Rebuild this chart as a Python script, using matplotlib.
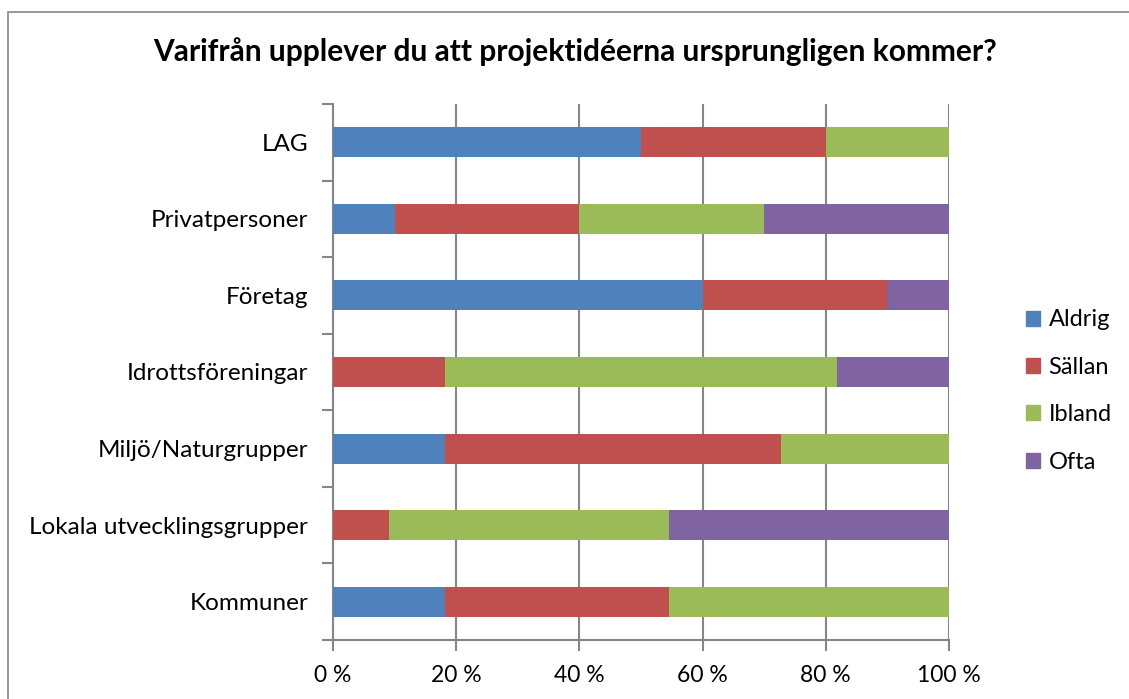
import matplotlib.pyplot as plt
import numpy as np
from matplotlib.patches import Rectangle, Patch

plt.rcParams['font.family'] = ['Lato', 'DejaVu Sans']

categories = ['Kommuner', 'Lokala utvecklingsgrupper', 'Miljö/Naturgrupper',
              'Idrottsföreningar', 'Företag', 'Privatpersoner', 'LAG']
series = ['Aldrig', 'Sällan', 'Ibland', 'Ofta']
aldrig = [18.2, 0, 18.2, 0, 60, 10, 50]
sallan = [36.4, 9.1, 54.5, 18.2, 30, 30, 30]
ibland = [45.4, 45.4, 27.3, 63.6, 0, 30, 20]
ofta = [0, 45.5, 0, 18.2, 10, 30, 0]
colors = ['#4F81BD', '#C0504D', '#9BBB59', '#8064A2']
xticks = [0, 20, 40, 60, 80, 100]

fig = plt.figure(figsize=(11.29, 6.99), dpi=100)
W, H = 1129, 699
# outer chart frame
fig.patches.append(Rectangle((8 / W, -0.1), 1.2, 1 - 12 / H + 0.1, transform=fig.transFigure,
                             fill=False, edgecolor='#888888', lw=1.2))

ax = fig.add_axes([333 / W, 1 - 640 / H, (949 - 333) / W, (640 - 104) / H])
y = np.arange(len(categories))
left = np.zeros(len(categories))
for vals, name, c in zip([aldrig, sallan, ibland, ofta], series, colors):
    ax.barh(y, vals, left=left, height=0.39, color=c, label=name, zorder=3)
    left += np.array(vals)

ax.set_xlim(0, 100)
ax.set_ylim(-0.5, len(categories) - 0.5)
ax.set_xticks(xticks)
ax.set_xticklabels([f'{t} %' for t in xticks], fontsize=16.5)
ax.set_yticks(y)
ax.set_yticklabels(categories, fontsize=17.5)
ax.set_yticks(np.arange(-0.5, len(categories)), minor=True)
ax.tick_params(axis='y', which='major', length=0, pad=18)
ax.tick_params(axis='y', which='minor', length=8, color='#868686', width=1.5)
ax.tick_params(axis='x', length=8, color='#868686', width=1.5, pad=10)
ax.grid(axis='x', color='#868686', lw=1.5, zorder=0)
for s in ['top', 'right']:
    ax.spines[s].set_visible(False)
for s in ['left', 'bottom']:
    ax.spines[s].set_color('#868686')
    ax.spines[s].set_linewidth(1.5)

fig.text(575 / W, 1 - 52 / H, 'Varifrån upplever du att projektidéerna ursprungligen kommer?',
         ha='center', va='center', fontsize=21.5, fontweight='bold')

handles = [Patch(color=c, label=n) for c, n in zip(colors, series)]
fig.legend(handles=handles, loc='center left', bbox_to_anchor=(1005 / W, 1 - 391 / H),
           frameon=False, fontsize=17, handlelength=0.6, handleheight=0.6,
           handletextpad=0.35, labelspacing=1.12)

fig.savefig('out.png', dpi=100)
